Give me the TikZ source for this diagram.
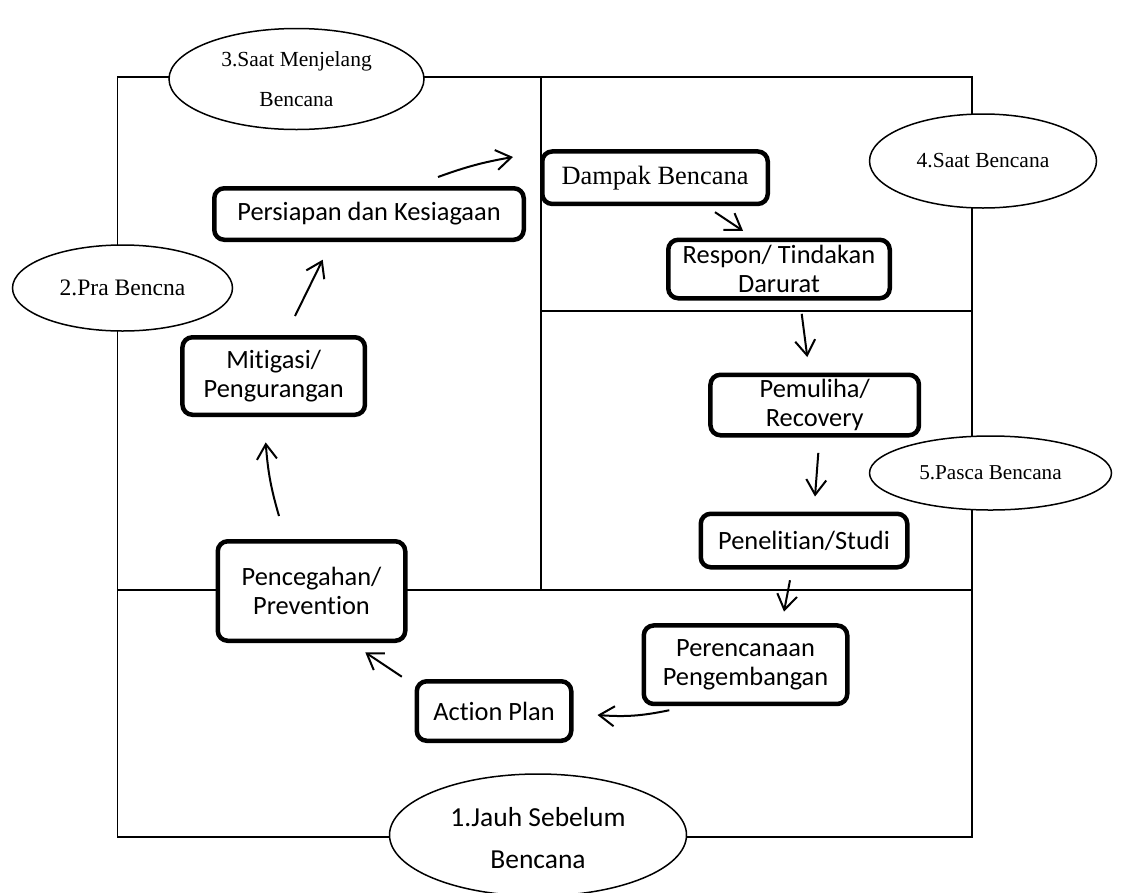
\documentclass[tikz,border=0pt]{standalone}
\usepackage{fontspec}
\setmainfont{Carlito}[RawFeature={-liga}]
\newfontfamily\tnr{Liberation Serif}
\usetikzlibrary{arrows.meta,shapes.geometric,calc}
\begin{document}
\begin{tikzpicture}[x=1pt,y=-1pt,
  frame/.style={line width=1.5pt},
  box/.style={draw, line width=4.5pt, rounded corners=10pt, fill=white, inner sep=0pt, align=center, font=\fontsize{26.4}{29.5}\selectfont},
  ell/.style={draw, ellipse, line width=1.5pt, fill=white, inner sep=0pt, align=center},
  arr/.style={line width=2pt, -{Straight Barb[length=15pt,width=20pt,line width=2pt]}}
]
\useasboundingbox (0,0) rectangle (1121,892);
\fill[white] (0,0) rectangle (1121,892);

% frame
\coordinate (tl) at (117.5,77);
\coordinate (br) at (972,837);
\draw[frame] (tl) rectangle (br);
\draw[frame] (541,77) -- (541,590);
\draw[frame] (541,311) -- (972,311);
\draw[frame] (117.5,590) -- (972,590);

% ellipses
\node[ell, minimum width=255pt, minimum height=101pt, font=\tnr\fontsize{21.5}{40}\selectfont] (e3) at (296.5,79) {3.Saat Menjelang\\Bencana};
\node[ell, minimum width=220pt, minimum height=86pt, font=\tnr\fontsize{23.6}{28}\selectfont] (e2) at (122.5,288) {2.Pra Bencna};
\node[ell, minimum width=227pt, minimum height=94pt, font=\tnr\fontsize{21.5}{26}\selectfont] (e4) at (983,161) {4.Saat Bencana};
\node[ell, minimum width=242pt, minimum height=74pt, font=\tnr\fontsize{21.2}{26}\selectfont] (e5) at (990.5,473) {5.Pasca Bencana};
\node[ell, minimum width=297pt, minimum height=122pt] (e1) at (538,835) {};
\node[align=center, inner sep=0pt, font=\fontsize{27.5}{42}\selectfont] (e1t) at (538,838) {1.Jauh Sebelum\\Bencana};

% boxes
\node[box, minimum width=309.5pt, minimum height=51.5pt] (pers) at (369,214) {Persiapan dan Kesiagaan};
\node[box, minimum width=225.5pt, minimum height=52.5pt, font=\tnr\fontsize{26.4}{30}\selectfont] (damp) at (655,177.7) {Dampak Bencana};
\node[box, minimum width=221.5pt, minimum height=58.5pt] (resp) at (779,269) {Respon/ Tindakan\\Darurat};
\node[box, minimum width=182.5pt, minimum height=77.5pt] (mit) at (273.7,376) {Mitigasi/\\Pengurangan};
\node[box, minimum width=208.5pt, minimum height=60.5pt] (pem) at (814.7,405) {Pemuliha/\\Recovery};
\node[box, minimum width=206.5pt, minimum height=53.5pt] (pen) at (804,540.5) {Penelitian/Studi};
\node[box, minimum width=187.5pt, minimum height=99.5pt] (prev) at (311.5,591) {Pencegahan/\\Prevention};
\node[box, minimum width=203.5pt, minimum height=78.5pt] (per) at (745.5,664.7) {Perencanaan\\Pengembangan};
\node[box, minimum width=154.5pt, minimum height=59.5pt] (act) at (494,711) {Action Plan};

% arrows
\draw[arr] ([shift={(-32.5,-23)}]prev.north) to[bend left=6] ([shift={(-8,25.4)}]mit.south);
\draw[arr] ([shift={(21.3,-19)}]mit.north) -- ([shift={(-46.3,17.7)}]pers.south);
\draw[arr] ([shift={(69,-9)}]pers.north) to[bend left=5] ([shift={(-27,-20.7)}]damp.west);
\draw[arr] ([shift={(60,6)}]damp.south) -- ([shift={(-36,-6.7)}]resp.north);
\draw[arr] ([shift={(22.7,13.3)}]resp.south) -- ([shift={(-7.4,-15.4)}]pem.north);
\draw[arr] ([shift={(3.6,15.4)}]pem.south) -- ([shift={(11,-15)}]pen.north);
\draw[arr] ([shift={(-14,10.7)}]pen.south) -- ([shift={(38.5,-11.6)}]per.north);
\draw[arr] ([shift={(-76.2,4)}]per.south) to[bend left=8] ([shift={(24,4)}]act.east);
\draw[arr] ([shift={(-12.7,-34.3)}]act.west) -- ([shift={(53.8,9.4)}]prev.south);
\end{tikzpicture}
\end{document}
